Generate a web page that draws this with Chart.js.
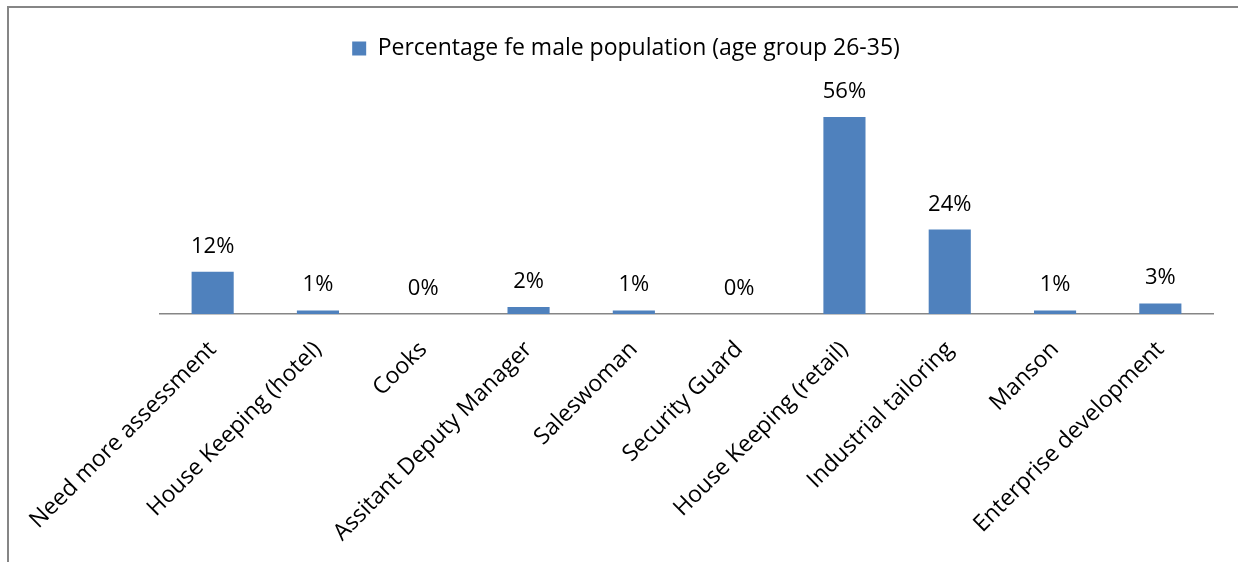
<!DOCTYPE html>
<html>
<head>
<meta charset="utf-8">
<title>Percentage female population (age group 26-35)</title>
<script src="https://cdn.jsdelivr.net/npm/chart.js@4.4.1/dist/chart.umd.min.js"></script>
<style>
  html, body { margin: 0; padding: 0; background: #fff; }
  #wrap { width: 1238px; height: 562px; position: relative; }
</style>
</head>
<body>
<div id="wrap"><canvas id="grafico"></canvas></div>
<script>
// categorias e valores (%)
const categorias = [
  "Need more assessment",
  "House Keeping (hotel)",
  "Cooks",
  "Assitant Deputy Manager",
  "Saleswoman",
  "Security Guard",
  "House Keeping (retail)",
  "Industrial tailoring",
  "Manson",
  "Enterprise development"
];
const percentuais = [12, 1, 0, 2, 1, 0, 56, 24, 1, 3];
const serieNome = "Percentage fe male population (age group 26-35)";

const FONTE = "'Open Sans', Lato, sans-serif";
const TAM = 23;        // legenda e eixo X
const TAM_ROTULO = 22; // valores sobre as barras
const AZUL = "#4F81BD";

// moldura cinza (topo e esquerda)
const moldura = {
  id: "moldura",
  beforeDraw(chart) {
    const ctx = chart.ctx;
    ctx.save();
    ctx.strokeStyle = "#868686";
    ctx.lineWidth = 2;
    ctx.beginPath();
    ctx.moveTo(8, chart.height);
    ctx.lineTo(8, 7);
    ctx.lineTo(chart.width, 7);
    ctx.stroke();
    ctx.restore();
  }
};

// rótulos de valor acima das barras
const rotulos = {
  id: "rotulos",
  afterDatasetsDraw(chart) {
    const ctx = chart.ctx;
    const meta = chart.getDatasetMeta(0);
    ctx.save();
    ctx.fillStyle = "#000";
    ctx.font = TAM_ROTULO + "px " + FONTE;
    ctx.textAlign = "center";
    ctx.textBaseline = "alphabetic";
    meta.data.forEach((bar, i) => {
      ctx.fillText(percentuais[i] + "%", bar.x, bar.y - 19);
    });
    ctx.restore();
  }
};

// espaço extra abaixo da legenda
const espacoLegenda = {
  id: "espacoLegenda",
  beforeInit(chart) {
    const fitOriginal = chart.legend.fit;
    chart.legend.fit = function () {
      fitOriginal.call(this);
      this.height += 33;
    };
  }
};

const ctx = document.getElementById("grafico");
new Chart(ctx, {
  type: "bar",
  data: {
    labels: categorias,
    datasets: [{
      label: serieNome,
      data: percentuais,
      backgroundColor: AZUL,
      borderWidth: 0,
      barPercentage: 0.8,
      categoryPercentage: 0.5
    }]
  },
  options: {
    responsive: true,
    maintainAspectRatio: false,
    animation: false,
    layout: {
      padding: { top: 17, left: 39, right: 25, bottom: 0 }
    },
    plugins: {
      legend: {
        position: "top",
        labels: {
          color: "#000",
          font: { family: FONTE, size: TAM },
          boxWidth: 14,
          boxHeight: 14,
          padding: 20
        }
      },
      tooltip: { enabled: false }
    },
    scales: {
      x: {
        grid: { display: false, drawTicks: false },
        border: { color: "#868686", width: 1.5 },
        ticks: {
          color: "#000",
          font: { family: FONTE, size: TAM },
          minRotation: 45,
          maxRotation: 45,
          autoSkip: false,
          padding: 22
        },
        afterFit(scale) {
          scale.paddingLeft = 0;
          scale.paddingRight = 0;
          scale.height = 248;
        }
      },
      y: {
        // eixo oculto, só reserva a margem esquerda
        min: 0,
        max: 60,
        grid: { display: false },
        border: { display: false },
        ticks: { display: false },
        afterFit(scale) {
          scale.width = 121;
        }
      }
    }
  },
  plugins: [moldura, rotulos, espacoLegenda]
});
</script>
</body>
</html>
